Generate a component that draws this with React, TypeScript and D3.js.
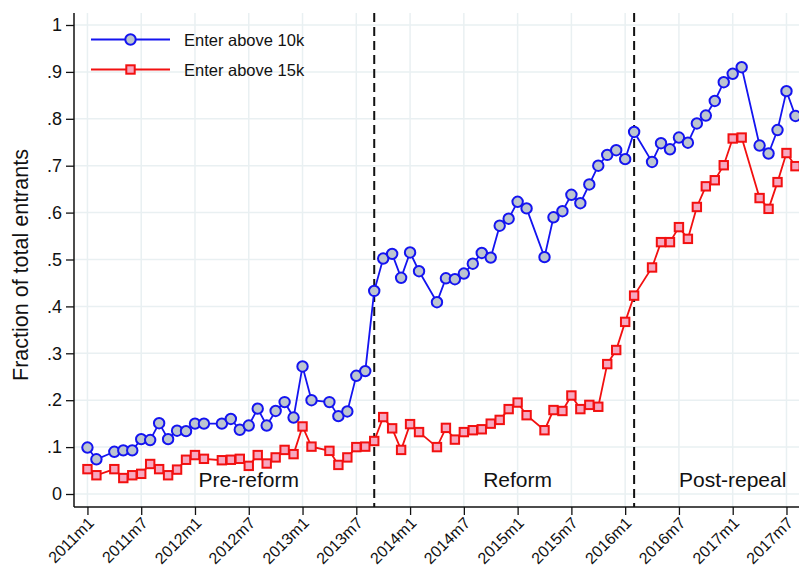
import { axisBottom, axisLeft, line, scaleLinear, select } from "d3";
import { useEffect, useRef } from "react";

// months since 2011m1; null = no observation
const months = Array.from({ length: 80 }, (_, i) => i);

const above10k: (number | null)[] = [
  0.099, 0.074, null, 0.09, 0.093, 0.093, 0.117, 0.115, 0.151, 0.117, 0.135, 0.134,
  0.15, 0.15, null, 0.15, 0.16, 0.137, 0.146, 0.182, 0.146, 0.177, 0.196, 0.163,
  0.272, 0.2, null, 0.196, 0.166, 0.176, 0.252, 0.262, 0.433, 0.502, 0.512, 0.461,
  0.515, 0.475, null, 0.409, 0.46, 0.458, 0.47, 0.491, 0.514, 0.504, 0.572, 0.587,
  0.623, 0.609, null, 0.505, 0.59, 0.603, 0.638, 0.62, 0.66, 0.7, 0.723, 0.733,
  0.714, 0.772, null, 0.708, 0.748, 0.735, 0.76, 0.749, 0.79, 0.807, 0.838, 0.878,
  0.896, 0.91, null, 0.743, 0.726, 0.776, 0.859, 0.806,
];

const above15k: (number | null)[] = [
  0.053, 0.04, null, 0.053, 0.034, 0.04, 0.043, 0.064, 0.053, 0.04, 0.052, 0.073,
  0.083, 0.075, null, 0.072, 0.073, 0.075, 0.06, 0.083, 0.065, 0.078, 0.094, 0.085,
  0.144, 0.101, null, 0.092, 0.062, 0.078, 0.1, 0.101, 0.113, 0.164, 0.14, 0.094,
  0.149, 0.132, null, 0.1, 0.141, 0.116, 0.132, 0.136, 0.138, 0.15, 0.158, 0.181,
  0.195, 0.168, null, 0.136, 0.179, 0.177, 0.21, 0.181, 0.19, 0.186, 0.277, 0.307,
  0.367, 0.423, null, 0.483, 0.537, 0.537, 0.569, 0.544, 0.612, 0.656, 0.669, 0.701,
  0.758, 0.76, null, 0.631, 0.608, 0.665, 0.727, 0.699,
];

const xTickMonths = [0, 6, 12, 18, 24, 30, 36, 42, 48, 54, 60, 66, 72, 78];
const xTickLabels = [
  "2011m1", "2011m7", "2012m1", "2012m7", "2013m1", "2013m7", "2014m1",
  "2014m7", "2015m1", "2015m7", "2016m1", "2016m7", "2017m1", "2017m7",
];
const yTicks = [0, 0.1, 0.2, 0.3, 0.4, 0.5, 0.6, 0.7, 0.8, 0.9, 1];

const breakMonths = [32, 61];
const periodNames = ["Pre-reform", "Reform", "Post-repeal"];
const periodMonths = [18, 48, 72];

const seriesNames = ["Enter above 10k", "Enter above 15k"];

const W = 799;
const H = 568;
const FONT = "'Liberation Sans', Arial, Helvetica, sans-serif";
const BLUE = "#1414f0";
const RED = "#f21010";
const GRID = "#e9f0f2";

const App = () => {
  const ref = useRef<SVGSVGElement>(null);

  useEffect(() => {
    if (!ref.current) return;
    const svg = select(ref.current);
    svg.selectAll("*").remove();

    const left = 74;
    const top = 13;
    const bottom = 507;

    const x = scaleLinear().domain([-1.5, 80]).range([left, left + 81.5 * 8.962]);
    const y = scaleLinear().domain([0, 1]).range([494, 25]);

    // grid
    const grid = svg.append("g");
    grid
      .selectAll(".gy")
      .data(yTicks)
      .join("line")
      .attr("x1", left)
      .attr("x2", W)
      .attr("y1", (d) => y(d))
      .attr("y2", (d) => y(d))
      .attr("stroke", GRID)
      .attr("stroke-width", 1.5);
    grid
      .selectAll(".gx")
      .data(xTickMonths)
      .join("line")
      .attr("x1", (d) => x(d))
      .attr("x2", (d) => x(d))
      .attr("y1", top)
      .attr("y2", bottom)
      .attr("stroke", GRID)
      .attr("stroke-width", 1.5);

    // axes
    const yAxis = axisLeft(y)
      .tickValues(yTicks)
      .tickSize(8)
      .tickPadding(4)
      .tickFormat((d) => {
        const v = +d;
        if (v === 0) return "0";
        if (v === 1) return "1";
        return v.toFixed(1).replace(/^0/, "");
      });
    const gy = svg.append("g").attr("transform", `translate(${left},0)`).call(yAxis);
    gy.select(".domain").remove();
    gy.selectAll("text").attr("font-size", 18).attr("font-family", FONT).attr("fill", "#111");
    gy.selectAll("line").attr("stroke", "#111").attr("stroke-width", 1.3);

    const xAxis = axisBottom(x)
      .tickValues(xTickMonths)
      .tickSize(8)
      .tickFormat((_, i) => xTickLabels[i]);
    const gx = svg.append("g").attr("transform", `translate(0,${bottom})`).call(xAxis);
    gx.select(".domain").remove();
    gx.selectAll("line").attr("stroke", "#111").attr("stroke-width", 1.3);
    gx.selectAll("text")
      .attr("font-size", 16)
      .attr("font-family", FONT)
      .attr("fill", "#111")
      .attr("text-anchor", "end")
      .attr("dy", null)
      .attr("y", null)
      .attr("transform", "translate(7,17) rotate(-45)");

    svg
      .append("line")
      .attr("x1", left)
      .attr("x2", left)
      .attr("y1", top)
      .attr("y2", bottom)
      .attr("stroke", "#111")
      .attr("stroke-width", 1.5);
    svg
      .append("line")
      .attr("x1", left)
      .attr("x2", W)
      .attr("y1", bottom)
      .attr("y2", bottom)
      .attr("stroke", "#111")
      .attr("stroke-width", 1.5);

    // axis title
    svg
      .append("text")
      .attr("transform", `translate(28,265) rotate(-90)`)
      .attr("text-anchor", "middle")
      .attr("font-size", 21.5)
      .attr("font-family", FONT)
      .attr("fill", "#111")
      .text("Fraction of total entrants");

    // reform / repeal lines
    svg
      .selectAll(".brk")
      .data(breakMonths)
      .join("line")
      .attr("x1", (d) => x(d))
      .attr("x2", (d) => x(d))
      .attr("y1", top)
      .attr("y2", bottom)
      .attr("stroke", "#111")
      .attr("stroke-width", 2)
      .attr("stroke-dasharray", "9,5");

    // period labels
    svg
      .selectAll(".period")
      .data(periodNames)
      .join("text")
      .attr("x", (_, i) => x(periodMonths[i]))
      .attr("y", y(0.015))
      .attr("text-anchor", "middle")
      .attr("font-size", 21)
      .attr("font-family", FONT)
      .attr("fill", "#111")
      .text((d) => d);

    const pts = (vals: (number | null)[]) =>
      months
        .filter((m) => vals[m] !== null)
        .map((m) => ({ m, v: vals[m] as number }));

    const lineGen = line<{ m: number; v: number }>()
      .x((d) => x(d.m))
      .y((d) => y(d.v));

    const blue = pts(above10k);
    const red = pts(above15k);

    svg
      .append("path")
      .attr("d", lineGen(blue))
      .attr("fill", "none")
      .attr("stroke", BLUE)
      .attr("stroke-width", 1.8);
    svg
      .selectAll(".c10")
      .data(blue)
      .join("circle")
      .attr("cx", (d) => x(d.m))
      .attr("cy", (d) => y(d.v))
      .attr("r", 5.2)
      .attr("fill", "#bcc5d0")
      .attr("stroke", BLUE)
      .attr("stroke-width", 2);

    svg
      .append("path")
      .attr("d", lineGen(red))
      .attr("fill", "none")
      .attr("stroke", RED)
      .attr("stroke-width", 1.8);
    svg
      .selectAll(".s15")
      .data(red)
      .join("rect")
      .attr("x", (d) => x(d.m) - 4.2)
      .attr("y", (d) => y(d.v) - 4.2)
      .attr("width", 8.4)
      .attr("height", 8.4)
      .attr("fill", "#f7a8c0")
      .attr("stroke", RED)
      .attr("stroke-width", 2);

    // legend
    const leg = svg.append("g");
    const legY = [39.5, 69.5];
    seriesNames.forEach((name, i) => {
      const c = i === 0 ? BLUE : RED;
      leg
        .append("line")
        .attr("x1", 91)
        .attr("x2", 170)
        .attr("y1", legY[i])
        .attr("y2", legY[i])
        .attr("stroke", c)
        .attr("stroke-width", 1.8);
      if (i === 0) {
        leg
          .append("circle")
          .attr("cx", 130.5)
          .attr("cy", legY[i])
          .attr("r", 5.2)
          .attr("fill", "#bcc5d0")
          .attr("stroke", c)
          .attr("stroke-width", 2);
      } else {
        leg
          .append("rect")
          .attr("x", 126.3)
          .attr("y", legY[i] - 4.2)
          .attr("width", 8.4)
          .attr("height", 8.4)
          .attr("fill", "#f7a8c0")
          .attr("stroke", c)
          .attr("stroke-width", 2);
      }
      leg
        .append("text")
        .attr("x", 184)
        .attr("y", legY[i] + 6)
        .attr("font-size", 16.5)
        .attr("font-family", FONT)
        .attr("fill", "#111")
        .text(name);
    });
  }, []);

  return (
    <div style={{ position: "absolute", left: 0, top: 0 }}>
      <svg ref={ref} width={W} height={H} style={{ display: "block", background: "#fff" }} />
    </div>
  );
};

export default App;
